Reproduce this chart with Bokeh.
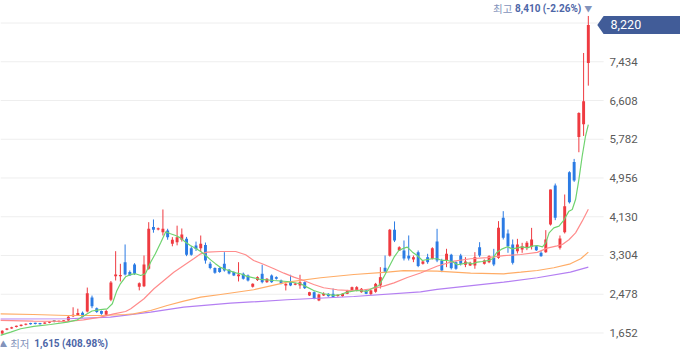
from bokeh.plotting import figure
from bokeh.models import Range1d
from bokeh.core.properties import value
from bokeh.embed import file_html
from bokeh.resources import INLINE

# ---------------- data (daily candles, KRW) ----------------
opens = [1640, 1720, 1750, 1780, 1800, 1825, 1860, 1860, 1858, 1850,
         1870, 1890, 1885, 1900, 1918, 2010, 2030, 2083, 2110, 2410,
         2180, 2120, 2040, 2360, 2860, 2860, 3160, 2950, 3112, 2640,
         2650, 3021, 3910, 3860, 3800, 3837, 3553, 3588, 3640, 3660,
         3460, 3517, 3460, 3530, 3128, 3035, 3035, 3128, 3000, 2950,
         2860, 2914, 2878, 2640, 2780, 2914, 2735, 2878, 2842, 2771,
         2665, 2735, 2680, 2665, 2735, 2452, 2522, 2345, 2452, 2487,
         2487, 2440, 2437, 2487, 2558, 2558, 2522, 2558, 2480, 2530,
         2665, 3042, 3300, 3855, 3411, 3411, 3300, 3219, 3375, 3127,
         3268, 3234, 3603, 3198, 3198, 3319, 3162, 3304, 3106, 3091,
         3091, 3481, 3127, 3160, 3254, 3254, 4107, 3773, 3538, 3396,
         3432, 3467, 3489, 3503, 3361, 3375, 3964, 4795, 3467, 3801,
         5079, 5299, 5832, 6102, 7408]
highs = [1710, 1755, 1785, 1810, 1835, 1855, 1870, 1870, 1868, 1880,
         1900, 1900, 1915, 1925, 2010, 2200, 2170, 2110, 2620, 2450,
         2195, 2130, 2150, 2760, 3396, 3127, 3539, 2984, 3140, 2730,
         3304, 4014, 4072, 3900, 4285, 3874, 3695, 3940, 3880, 3700,
         3500, 3600, 3730, 3580, 3170, 3050, 3050, 3375, 3015, 2965,
         3161, 2940, 2900, 2710, 2860, 3106, 2820, 2900, 2860, 2790,
         2710, 2893, 2720, 2893, 2750, 2530, 2540, 2490, 2520, 2500,
         2600, 2470, 2500, 2570, 2640, 2650, 2610, 2570, 2570, 2720,
         3055, 3304, 3870, 4030, 3500, 3624, 3731, 3304, 3411, 3190,
         3340, 3480, 3873, 3234, 3447, 3340, 3180, 3340, 3268, 3170,
         3375, 3588, 3220, 3310, 3446, 4036, 4249, 3858, 3645, 3659,
         3574, 3610, 3893, 3520, 3396, 3844, 4710, 4838, 3730, 4604,
         5100, 5363, 6357, 7621, 8410]
lows = [1615, 1710, 1740, 1770, 1790, 1815, 1830, 1835, 1832, 1845,
        1860, 1880, 1880, 1895, 1910, 1990, 2020, 1980, 2090, 2180,
        2080, 2040, 2020, 2330, 2771, 2750, 2878, 2870, 2890, 2560,
        2630, 3000, 3790, 3840, 3730, 3640, 3500, 3520, 3600, 3290,
        3300, 3400, 3380, 3130, 3010, 2915, 2935, 2960, 2900, 2865,
        2750, 2790, 2750, 2620, 2760, 2710, 2720, 2720, 2790, 2690,
        2558, 2650, 2670, 2594, 2590, 2440, 2370, 2330, 2440, 2425,
        2400, 2425, 2425, 2480, 2550, 2540, 2510, 2480, 2460, 2510,
        2600, 2940, 3280, 3590, 3400, 3198, 3198, 3162, 3055, 3110,
        3127, 3220, 3162, 2948, 3055, 3006, 3000, 3091, 3055, 3080,
        3021, 3268, 3110, 3140, 3077, 3233, 3645, 3361, 3112, 3347,
        3361, 3418, 3432, 3400, 3276, 3361, 3943, 4057, 3432, 3773,
        4412, 4873, 5505, 5853, 6925]
closes = [1700, 1745, 1775, 1800, 1825, 1845, 1840, 1845, 1840, 1870,
          1890, 1890, 1905, 1915, 1999, 2040, 2080, 2000, 2500, 2220,
          2100, 2060, 2120, 2730, 2900, 2890, 2900, 2880, 2914, 2710,
          3112, 3874, 3852, 3880, 3874, 3695, 3640, 3695, 3750, 3320,
          3320, 3445, 3555, 3198, 3035, 2935, 2950, 2985, 2920, 2880,
          2900, 2808, 2771, 2700, 2842, 2735, 2808, 2735, 2808, 2701,
          2701, 2665, 2701, 2735, 2607, 2522, 2381, 2473, 2487, 2437,
          2416, 2452, 2487, 2558, 2629, 2629, 2594, 2487, 2560, 2700,
          2842, 2960, 3855, 3624, 3481, 3240, 3240, 3268, 3080, 3176,
          3162, 3460, 3198, 2984, 3340, 3034, 3021, 3127, 3176, 3149,
          3268, 3304, 3198, 3290, 3112, 3893, 3680, 3503, 3148, 3538,
          3503, 3574, 3645, 3418, 3290, 3645, 4710, 4107, 3666, 4355,
          4440, 4901, 6343, 6592, 8220]

# moving averages: (candle position, price)
ma5_x = [-0.4, 1.8, 3.9, 6.7, 10.2, 13.8, 15.9, 18, 19, 20.8, 22.2, 23.3, 24.2, 25,
         26.1, 27.2, 28.2, 29.3, 30.3, 31.4, 32.4, 33.5, 34.6, 35.6, 36.7, 37.7, 38.8,
         39.8, 40.9, 42, 43, 44.1, 45.1, 46.2, 47.3, 48.3, 49.4, 50.4, 51.8, 54.7, 57.5,
         60.3, 63.1, 64.5, 65.9, 68, 70.2, 71.6, 73, 75.1, 77.1, 78.3, 79.7, 80.7, 81.8,
         82.9, 83.9, 85, 85.7, 86.8, 87.8, 88.9, 89.9, 91, 92, 93.1, 94.2, 95.2, 96.3,
         97.3, 98.4, 99.5, 100.5, 101.6, 103, 103.7, 104.7, 105.8, 106.9, 107.9, 109,
         110, 111.1, 112.1, 113.2, 114.3, 115, 115.7, 116.7, 117.8, 118.9, 119.9,
         120.6, 121.3, 122, 122.7, 123.4, 124]
ma5_y = [1600, 1669, 1742, 1791, 1833, 1882, 1933, 2060, 2120, 2150, 2165, 2275, 2540, 2700,
         2850, 2900, 2914, 2878, 2914, 3161, 3340, 3570, 3810, 3767, 3731, 3680, 3588,
         3517, 3460, 3390, 3310, 3210, 3130, 3050, 3006, 2970, 2935, 2914, 2860, 2793, 2771,
         2750, 2701, 2629, 2558, 2488, 2452, 2473, 2522, 2558, 2537, 2607, 2665, 2842, 3055,
         3268, 3411, 3460, 3481, 3375, 3304, 3198, 3219, 3234, 3234, 3198, 3198, 3176, 3106,
         3127, 3149, 3127, 3162, 3176, 3200, 3233, 3375, 3446, 3489, 3446, 3467,
         3489, 3467, 3503, 3517, 3489, 3574, 3787, 3893, 3929, 4071, 4249,
         4284, 4497, 4923, 5420, 5846, 6094]
ma20_x = [-0.4, 6.6, 13.8, 17.2, 20.8, 23.6, 26.1, 27.2, 30, 32.1, 34.2, 36.3, 38.4, 40.5,
          42, 43.4, 46.2, 49.4, 51.5, 53.2, 55.4, 57.5, 59.6, 61.7, 63.8, 65.9, 68, 70.9,
          73.7, 76.5, 78.6, 80.7, 82.9, 85.7, 88.5, 92.1, 95.6, 99.1, 102.6, 106.1, 109.7,
          113.2, 115.3, 117.4, 118.5, 119.9, 121.3, 122.7, 124]
ma20_y = [1919, 1904, 1897, 1933, 1989, 2061, 2110, 2168, 2381, 2594, 2771, 2948, 3091, 3234,
          3340, 3375, 3389, 3389, 3319, 3198, 3112, 3021, 2927, 2842, 2771, 2686, 2616, 2573,
          2558, 2573, 2600, 2650, 2720, 2835, 2930, 3080, 3183, 3234, 3260, 3300, 3325,
          3370, 3460, 3510, 3538, 3640, 3787, 4036, 4290]
ma60_x = [-0.4, 6.6, 13.8, 20.8, 26.1, 27.8, 31.4, 34.9, 38.4, 42, 46.2, 53.2, 60.3, 67.4,
          74.4, 81.5, 84.9, 92, 99.1, 106.1, 109.7, 113.2, 116.7, 120.2, 122.4, 124]
ma60_y = [2061, 2046, 2025, 2025, 2046, 2061, 2132, 2238, 2330, 2415, 2473, 2573, 2735, 2829,
          2899, 2948, 2980, 2970, 2927, 2914, 2948, 2984, 3042, 3127, 3234, 3375]
ma120_x = [-0.4, 13.8, 22.9, 31.4, 38.4, 48.3, 60.3, 74.4, 88.5, 92, 106.1, 113.2, 120.2, 124]
ma120_y = [1950, 1955, 1989, 2095, 2202, 2287, 2360, 2430, 2530, 2580, 2735, 2829, 2948, 3055]

y_ticks = [1652, 2478, 3304, 4130, 4956, 5782, 6608, 7434, 8260]
y_tick_labels = ["1,652", "2,478", "3,304", "4,130", "4,956", "5,782", "6,608", "7,434", ""]

# ---------------- styling ----------------
KR = "Noto Sans CJK KR"
NUM = "Roboto"
RED, BLUE, FLAT = "#ef3a40", "#2b7be4", "#333333"
C_MA5, C_MA20, C_MA60, C_MA120 = "#6fd36f", "#ff8c8c", "#ffac66", "#b47ff2"
BOX = "#415c98"
LABEL_MUTED = "#8393bb"
LABEL_BOLD = "#4d66a7"

W, H = 680, 358
X0, X1 = -0.36, 143.5        # whole canvas is the plotting frame
X_EDGE = 127.23              # right end of the price area (gridlines stop here)
Y0, Y1 = 1108, 8740
px_x = W / (X1 - X0)
px_y = H / (Y1 - Y0)

n = len(closes)
idx = list(range(n))
colors = [RED if c > o else (BLUE if c < o else FLAT) for o, c in zip(opens, closes)]
body_bot = [min(o, c) for o, c in zip(opens, closes)]
body_top = [max(max(o, c), min(o, c) + 1.2 / px_y) for o, c in zip(opens, closes)]

p = figure(width=W, height=H, x_range=Range1d(X0, X1), y_range=Range1d(Y0, Y1),
           output_backend="svg", toolbar_location=None,
           x_axis_location=None, y_axis_location=None,
           min_border_left=0, min_border_top=0, min_border_bottom=0, min_border_right=0)
p.outline_line_color = None
p.background_fill_color = "white"
p.border_fill_color = "white"
p.grid.visible = False

# horizontal grid + price scale on the right
p.segment(x0=[X0] * len(y_ticks), y0=y_ticks, x1=[X_EDGE] * len(y_ticks), y1=y_ticks,
          line_color="#eeeeee", line_width=1)
p.text(x=[X_EDGE] * len(y_ticks), y=y_ticks, text=y_tick_labels, x_offset=6,
       text_align="left", text_baseline="middle", text_font=value(NUM),
       text_font_size="11.5px", text_color="#5a5a5a")

# candles
p.segment(x0=idx, y0=lows, x1=idx, y1=highs, line_color=colors, line_width=1)
p.vbar(x=idx, width=0.62, top=body_top, bottom=body_bot, fill_color=colors, line_color=None)

# moving averages
p.line(ma120_x, ma120_y, line_color=C_MA120, line_width=1.2)
p.line(ma60_x, ma60_y, line_color=C_MA60, line_width=1.2)
p.line(ma20_x, ma20_y, line_color=C_MA20, line_width=1.2)
p.line(ma5_x, ma5_y, line_color=C_MA5, line_width=1.2)

# highest / lowest annotations
last = closes[-1]
hi = max(highs); i_hi = highs.index(hi)
lo = min(lows); i_lo = lows.index(lo)
hi_txt = f"{hi:,} ({(last - hi) / hi * 100:.2f}%)"
lo_txt = f"{lo:,} ({(last - lo) / lo * 100:.2f}%)"

p.text(x=[i_hi], y=[hi], text=["▼"], text_align="center", text_baseline="middle",
       y_offset=-7.5, text_font=value(KR), text_color=LABEL_MUTED, text_font_size="8px")
p.text(x=[i_hi], y=[hi], text=[hi_txt], text_align="right", text_baseline="middle",
       y_offset=-7.5, x_offset=-7, text_font=value(NUM), text_font_style="bold",
       text_color=LABEL_BOLD, text_font_size="10px")
p.text(x=[i_hi], y=[hi], text=["최고"], text_align="right", text_baseline="middle",
       y_offset=-7.5, x_offset=-76, text_font=value(KR), text_color=LABEL_MUTED,
       text_font_size="10.5px")

p.text(x=[i_lo], y=[lo], text=["▲"], text_align="center", text_baseline="middle",
       y_offset=9, x_offset=1, text_font=value(KR), text_color=LABEL_MUTED, text_font_size="8px")
p.text(x=[i_lo], y=[lo], text=["최저"], text_align="left", text_baseline="middle",
       y_offset=9, x_offset=8, text_font=value(KR), text_color=LABEL_MUTED,
       text_font_size="10.5px")
p.text(x=[i_lo], y=[lo], text=[lo_txt], text_align="left", text_baseline="middle",
       y_offset=9, x_offset=32, text_font=value(NUM), text_font_style="bold",
       text_color=LABEL_BOLD, text_font_size="10px")

# current price tag
tip = 6.3 / px_x
hh = 9 / px_y
p.patch(x=[X_EDGE - tip, X_EDGE, X1 + 1, X1 + 1, X_EDGE],
        y=[last, last + hh, last + hh, last - hh, last - hh],
        fill_color=BOX, line_color=None)
p.text(x=[X_EDGE], y=[last], text=[f"{last:,}"], x_offset=7, text_align="left",
       text_baseline="middle", text_font=value(NUM), text_font_size="12.5px",
       text_color="white")

open("out.html", "w").write(file_html(p, INLINE))
